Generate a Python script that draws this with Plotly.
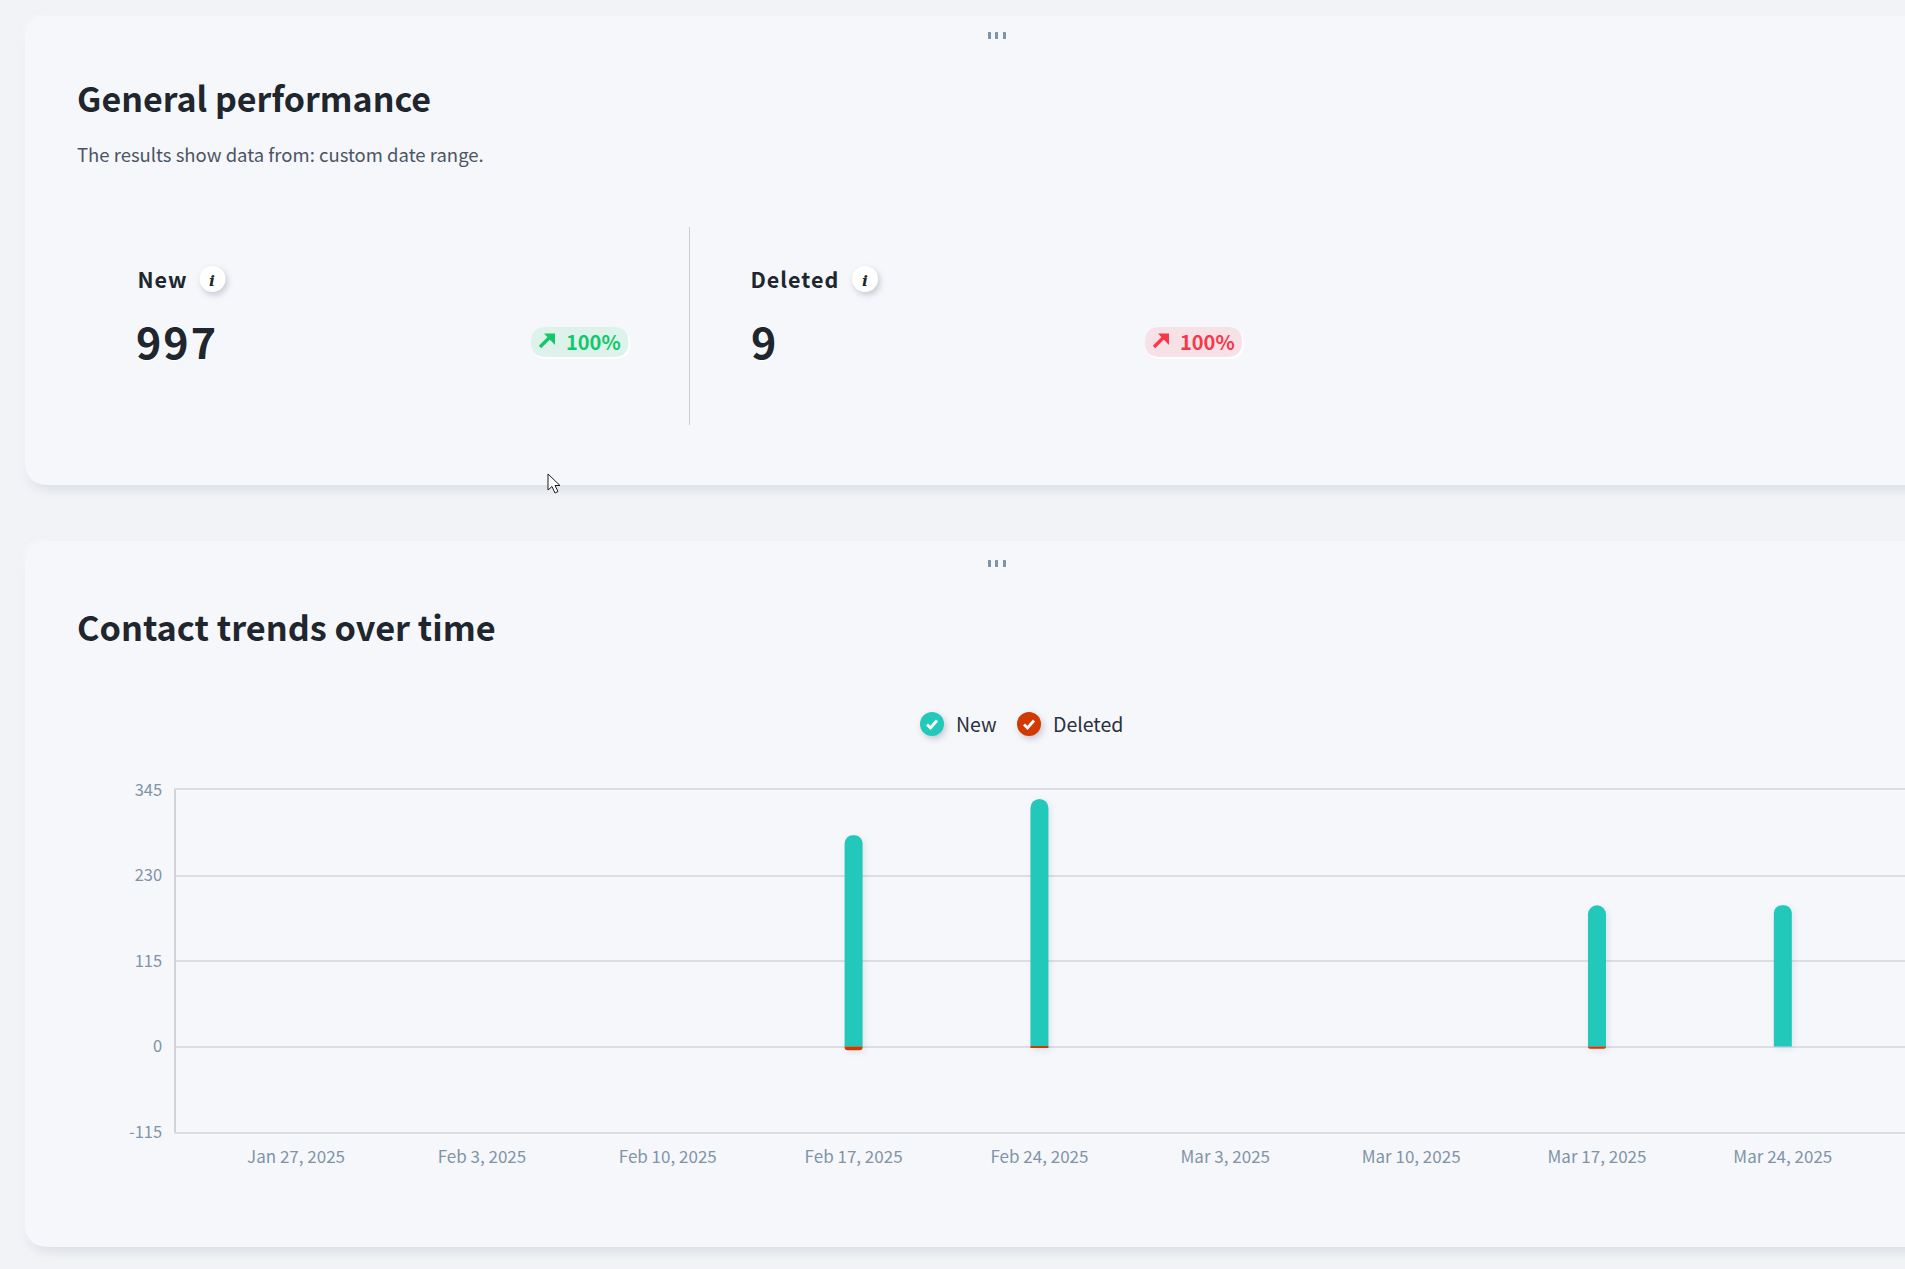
import datetime as dt
import json
import plotly.graph_objects as go

W, H = 1905, 1269
weeks = ["2025-01-27", "2025-02-03", "2025-02-10", "2025-02-17", "2025-02-24",
         "2025-03-03", "2025-03-10", "2025-03-17", "2025-03-24"]
new_values = [0, 0, 0, 284, 333, 0, 0, 190, 190]
deleted_values = [0, 0, 0, -5, -1, 0, 0, -3, 0]
y_ticks = [-115, 0, 115, 230, 345]
y_tick_labels = ["-115", "0", "115", "230", "345"]
series_names = ["New", "Deleted"]
TEAL, RED = "#22c9ba", "#d03a00"
BG, CARD = "#f2f3f7", "#f6f7fb"
INK = "#20262e"
FONT = "Noto Sans CJK SC"

def fx(p): return p / W
def fy(p): return 1 - p / H

def path(cmds):
    out = []
    for c in cmds:
        if isinstance(c, str):
            out.append(c)
        else:
            out.append(f"{fx(c[0]):.6f},{fy(c[1]):.6f}")
    return " ".join(out)

def rrect(x0, y0, x1, y1, r):
    k = r
    return path(["M", (x0 + k, y0), "L", (x1 - k, y0), "Q", (x1, y0), (x1, y0 + k),
                 "L", (x1, y1 - k), "Q", (x1, y1), (x1 - k, y1),
                 "L", (x0 + k, y1), "Q", (x0, y1), (x0, y1 - k),
                 "L", (x0, y0 + k), "Q", (x0, y0), (x0 + k, y0), "Z"])

shapes = []
filters = {}
def add_path(d, fill, line=None, lw=0, flt=None):
    if flt:
        filters[len(shapes)] = flt
    shapes.append(dict(type="path", xref="paper", yref="paper", path=d, fillcolor=fill,
                       line=dict(color=line or "rgba(0,0,0,0)", width=lw), layer="below"))

CARD_F = "drop-shadow(3px 4px 6px rgba(105,125,150,0.20)) drop-shadow(-2px -2px 2px rgba(255,255,255,0.55))"
SMALL_F = "drop-shadow(2px 3px 3px rgba(80,95,120,0.30))"

def circle(cx, cy, r, fill):
    filters[len(shapes)] = SMALL_F
    shapes.append(dict(type="circle", xref="paper", yref="paper", x0=fx(cx - r), x1=fx(cx + r),
                       y0=fy(cy + r), y1=fy(cy - r), fillcolor=fill, line=dict(width=0), layer="below"))

add_path(rrect(25, 16, W + 60, 485, 24), CARD, flt=CARD_F)
add_path(rrect(25, 541, W + 60, 1247, 24), CARD, flt=CARD_F)

# drag handles
for y in (32, 560):
    for x in (988, 995, 1003):
        add_path(rrect(x, y, x + 3, y + 7, 0.5), "#7b95a9")

# divider
add_path(path(["M", (689, 227), "L", (690, 227), "L", (690, 425), "L", (689, 425), "Z"]), "#c9ccd1")

# badges and arrows
def badge(x0, x1, fill, col):
    add_path(rrect(x0 + 1, 329, x1 + 2, 359, 15), "rgba(255,255,255,0.9)")
    add_path(rrect(x0, 327, x1, 357, 15), fill)
    ax = x0 + 9
    add_path(path(["M", (ax, 347), "L", (ax + 10, 337)]), "rgba(0,0,0,0)", col, 3.4)
    add_path(path(["M", (ax + 4, 333.5), "L", (ax + 15, 333.5), "L", (ax + 15, 345), "Z"]), col)

badge(531, 628.5, "#def2ec", "#12c86b")
badge(1145, 1242, "#f6e2e6", "#f8374a")

# info buttons
circle(212.5, 279, 13, "#ffffff")
circle(865, 279, 13, "#ffffff")

# legend markers
legend_x = [932, 1029]
for cx, col in zip(legend_x, [TEAL, RED]):
    circle(cx, 724, 12, col)
    add_path(path(["M", (cx - 5, 724.5), "L", (cx - 1.5, 728), "L", (cx + 5, 720.5)]), "rgba(0,0,0,0)", "#ffffff", 2.8)

# mouse pointer
add_path(path(["M", (548, 474), "L", (548, 490), "L", (552, 486.5), "L", (555, 493), "L", (558, 491.5),
               "L", (555, 485.5), "L", (560, 485.5), "Z"]), "#ffffff", "#1c1c1c", 1)

annotations = []
def txt(s, x, y, size, color=INK, bold=False, shadow=None, family=FONT):
    f = dict(family=family, size=size, color=color, weight=700 if bold else 400)
    if shadow:
        f["shadow"] = shadow
    annotations.append(dict(text=s, x=fx(x), y=fy(y), xref="paper", yref="paper", xanchor="left", yanchor="middle",
                            showarrow=False, font=f, borderpad=0))

txt("General performance", 76, 97.5, 34, bold=True)
txt("The results show data from: custom date range.", 76, 154, 18.5, color="#4b5563")
txt("New", 137.5, 278, 21.5, bold=True)
txt("997", 138, 339.5, 43, bold=True, shadow="1px 1px 1px #ffffff")
txt("100%", 564.5, 342, 20, color="#12c86b", bold=True)
txt("Deleted", 752.5, 278, 21.5, bold=True)
txt("9", 750, 339.5, 43, bold=True, shadow="1px 1px 1px #ffffff")
txt("100%", 1179, 342, 20, color="#f8374a", bold=True)
txt("Contact trends over time", 76, 625.5, 34.3, bold=True)
txt(series_names[0], 955, 723, 19.5, color="#2a3040")
txt(series_names[1], 1052, 723, 19.5, color="#2a3040")
txt("<b><i>i</i></b>", 208, 280, 15.5, family="DejaVu Serif")
txt("<b><i>i</i></b>", 860.5, 280, 15.5, family="DejaVu Serif")

BAR_W = 18 / (185.9 / 7) * 86400000
fig = go.Figure()
fig.add_bar(x=weeks, y=new_values, name=series_names[0], marker=dict(color=TEAL, line=dict(width=0)), width=BAR_W)
fig.add_bar(x=weeks, y=deleted_values, name=series_names[1], marker=dict(color=RED, line=dict(width=0)), width=BAR_W)

px_per_day = 185.9 / 7
left_days = (295.6 - 175) / px_per_day
right_days = (1905 - 295.6) / px_per_day
ms = 86400000
start = dt.datetime(2025, 1, 27) - dt.timedelta(days=left_days)
end = dt.datetime(2025, 1, 27) + dt.timedelta(days=right_days)

fig.update_layout(
    width=W, height=H, autosize=False, margin=dict(l=0, r=0, t=0, b=0),
    paper_bgcolor=BG, plot_bgcolor="rgba(0,0,0,0)", barmode="relative", barcornerradius=9,
    showlegend=False, shapes=shapes, annotations=annotations,
    font=dict(family=FONT),
    xaxis=dict(domain=[fx(175.5), 1], type="date", range=[start, end], tick0="2025-01-27", dtick=7 * ms,
               tickformat="%b %-d, %Y", showgrid=False, zeroline=False, showline=True, mirror=True,
               linecolor="#dcdee4", linewidth=2, ticks="", automargin=False,
               tickfont=dict(family=FONT, size=17, color="#8094a8"), ticklabelstandoff=9),
    yaxis=dict(domain=[fy(1132), fy(790)], range=[-115, 345], tickmode="array", tickvals=y_ticks,
               ticktext=y_tick_labels, showgrid=True, gridcolor="#dcdee4", gridwidth=2, zeroline=False,
               showline=True, linecolor="#d2d3d8", linewidth=2, ticks="", automargin=False,
               tickfont=dict(family=FONT, size=16.5, color="#8094a8"), ticklabelstandoff=8),
)

spacing = {"New": "1px", "Deleted": "1px", "997": "2px", "9": "0px"}
script = """
document.body.style.margin='0';document.body.style.overflow='hidden';
var flt=%s, sp=%s;
Object.keys(flt).forEach(function(i){
  var el=document.querySelector('.layer-below .shapelayer path[data-index="'+i+'"]');
  if(el){el.style.filter=flt[i];}
});
document.querySelectorAll('.annotation-text').forEach(function(t){
  if(sp[t.textContent]&&t.getAttribute('style').indexOf('700')>=0){t.style.letterSpacing=sp[t.textContent];}
});
document.querySelectorAll('.barlayer .point path').forEach(function(p){
  p.style.filter='drop-shadow(2px 2px 3px rgba(90,105,130,0.14))';
});
""" % (json.dumps(filters), json.dumps(spacing))
fig.write_html("out.html", post_script=script, config={"displayModeBar": False})
